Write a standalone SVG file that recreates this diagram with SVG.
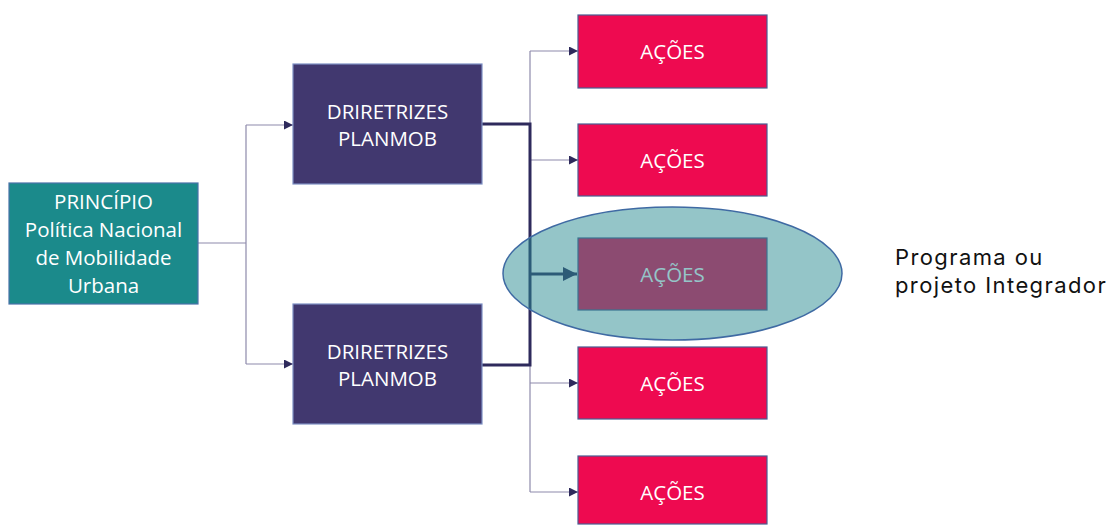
<svg xmlns="http://www.w3.org/2000/svg" width="1113" height="525" viewBox="0 0 1113 525">
<defs>
<style>
.t{font-family:"Open Sans","Liberation Sans",sans-serif;font-size:20.5px;fill:#ffffff;text-anchor:middle}
.thin{fill:none;stroke:#8e8aab;stroke-width:1.2}
.thick{fill:none;stroke:#2e2a5c;stroke-width:3}
.dir{fill:#41386f;stroke:#7d8fc4;stroke-width:1.2}
.acao{fill:#ee0a50;stroke:#4a5c92;stroke-width:1.2}
.lbl{font-family:Inter,"Noto Sans",sans-serif;font-size:22px;letter-spacing:1.4px;fill:#111111}
</style>
<marker id="ah" viewBox="0 0 10 10" refX="10" refY="5" markerWidth="9" markerHeight="9" markerUnits="userSpaceOnUse" orient="auto">
<path d="M0,0 L10,5 L0,10 z" fill="#2e2a5c"/>
</marker>
<marker id="ahb" viewBox="0 0 10 10" refX="10" refY="5" markerWidth="14" markerHeight="14" markerUnits="userSpaceOnUse" orient="auto">
<path d="M0,0 L10,5 L0,10 z" fill="#2e2a5c"/>
</marker>
</defs>
<rect width="1113" height="525" fill="#ffffff"/>
<g id="connectors">
<path class="thin" d="M198,243 H246 M246,125 V364"/>
<path class="thin" d="M246,125 H293" marker-end="url(#ah)"/>
<path class="thin" d="M246,364 H293" marker-end="url(#ah)"/>
<path class="thin" d="M530,51 V492"/>
<path class="thin" d="M530,51 H578" marker-end="url(#ah)"/>
<path class="thin" d="M530,160 H578" marker-end="url(#ah)"/>
<path class="thin" d="M530,383 H578" marker-end="url(#ah)"/>
<path class="thin" d="M530,492 H578" marker-end="url(#ah)"/>
<path class="thick" d="M482,124 H530 V365 H482"/>
<path class="thick" d="M530,274 H577" marker-end="url(#ahb)"/>
</g>
<g id="principio">
<rect x="9" y="183" width="189" height="121" fill="#1b8a8b" stroke="#4a72a8" stroke-width="1.2"/>
<text class="t" x="103.5" y="209">PRINCÍPIO</text>
<text class="t" x="103.5" y="237">Política Nacional</text>
<text class="t" x="103.5" y="265">de Mobilidade</text>
<text class="t" x="103.5" y="293">Urbana</text>
</g>
<g id="diretrizes1">
<rect class="dir" x="293" y="64" width="189" height="120"/>
<text class="t" x="387.5" y="119">DRIRETRIZES</text>
<text class="t" x="387.5" y="146">PLANMOB</text>
</g>
<g id="diretrizes2">
<rect class="dir" x="293" y="304" width="189" height="120"/>
<text class="t" x="387.5" y="359">DRIRETRIZES</text>
<text class="t" x="387.5" y="386">PLANMOB</text>
</g>
<g id="acao1">
<rect class="acao" x="578" y="15" width="189" height="73"/>
<text class="t" x="672.5" y="59">AÇÕES</text>
</g>
<g id="acao2">
<rect class="acao" x="578" y="124" width="189" height="72"/>
<text class="t" x="672.5" y="168">AÇÕES</text>
</g>
<g id="acao3">
<rect class="acao" x="578" y="238" width="189" height="72"/>
<text class="t" x="672.5" y="282">AÇÕES</text>
</g>
<g id="acao4">
<rect class="acao" x="578" y="347" width="189" height="72"/>
<text class="t" x="672.5" y="391">AÇÕES</text>
</g>
<g id="acao5">
<rect class="acao" x="578" y="456" width="189" height="68"/>
<text class="t" x="672.5" y="500">AÇÕES</text>
</g>
<g id="programa">
<ellipse cx="672.5" cy="273.5" rx="169.5" ry="66.5" fill="#2a8c92" fill-opacity="0.5" stroke="#3f6aa3" stroke-width="1.5"/>
</g>
<g id="label">
<text class="lbl" x="895" y="265">Programa ou</text>
<text class="lbl" x="895" y="293">projeto Integrador</text>
</g>
</svg>
